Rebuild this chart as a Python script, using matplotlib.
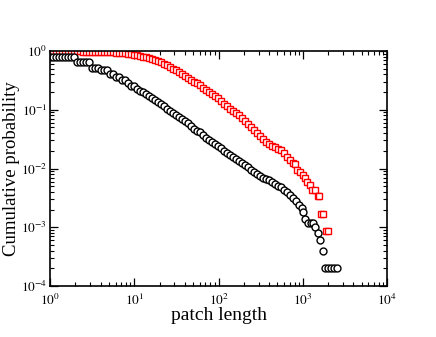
import matplotlib
matplotlib.use("Agg")
import matplotlib.pyplot as plt
from matplotlib.ticker import LogLocator, NullFormatter

# ---- data ----
black_x = [1.00, 1.085, 1.178, 1.279, 1.388, 1.507, 1.635, 1.775, 1.926,
           2.09, 2.27, 2.46, 2.67, 2.90,
           3.15, 3.42, 3.71,
           4.03, 4.37, 4.74,
           5.15, 5.59, 6.07, 6.58, 7.15, 7.76, 8.42, 9.14, 9.92,
           10.8, 11.7, 12.7, 13.8, 14.9, 16.2, 17.6, 19.1, 20.7, 22.5, 24.4,
           26.5, 28.8, 31.2, 33.9, 36.8, 39.9, 43.3, 47.0, 51.1, 55.4, 60.2,
           65.3, 70.9, 76.9, 83.5, 90.6, 98.4, 107, 116, 126, 136, 148, 161,
           174, 189, 205, 223, 242, 263, 285, 309, 336, 364, 395, 429, 466,
           506, 549, 596, 647, 702, 762, 827, 898, 975,
           1007, 1064, 1154, 1250, 1324, 1397, 1517, 1603, 1740,
           1850, 2000, 2170, 2350, 2520]
black_y = [0.78, 0.78, 0.78, 0.78, 0.78, 0.78, 0.78, 0.78, 0.78,
           0.64, 0.64, 0.64, 0.64, 0.64,
           0.52, 0.52, 0.52,
           0.47, 0.47, 0.47,
           0.41, 0.41, 0.36, 0.36, 0.32, 0.32, 0.285, 0.255, 0.255,
           0.226, 0.212, 0.20, 0.185, 0.171, 0.159, 0.149, 0.135, 0.125, 0.114, 0.103,
           0.095, 0.088, 0.080, 0.0756, 0.070, 0.0634, 0.0586, 0.053, 0.0479, 0.0443, 0.0411,
           0.0372, 0.0337, 0.0306, 0.0284, 0.0263, 0.0243, 0.0221, 0.0200, 0.0184, 0.0171, 0.0158, 0.0146,
           0.0134, 0.0124, 0.0115, 0.0104, 0.0094, 0.0087, 0.0081, 0.0075, 0.0070, 0.0066, 0.0063, 0.0059, 0.0055,
           0.0051, 0.0048, 0.0043, 0.0040, 0.0035, 0.0031, 0.0028, 0.0024, 0.0021,
           0.0018, 0.0014, 0.0012, 0.0012, 0.0012, 0.0010, 0.0008, 0.0006, 0.0004,
           0.0002, 0.0002, 0.0002, 0.0002, 0.0002]

red_x = [1.00, 1.085, 1.178, 1.279, 1.388, 1.507, 1.635, 1.775, 1.926,
         2.09, 2.27, 2.46, 2.67, 2.90,
         3.15, 3.42, 3.71, 4.03, 4.37, 4.74,
         5.15, 5.59, 6.07, 6.58, 7.15, 7.76, 8.42, 9.14, 9.92,
         10.8, 11.7, 12.7, 13.8, 14.9, 16.2, 17.6, 19.1, 20.7, 22.5, 24.4,
         26.5, 28.8, 31.2, 33.9, 36.8, 39.9, 43.3, 47.0, 51.1, 55.4, 60.2,
         65.3, 70.9, 76.9, 83.5, 90.6, 98.4, 107, 116, 126, 136, 148, 161,
         174, 189, 205, 223, 242, 263, 285, 309, 336, 364, 395, 429, 466,
         506, 549, 596, 647, 702, 762,
         812, 855, 927, 1007, 1064, 1124, 1222, 1290, 1397, 1517, 1580,
         1650, 1740, 1890, 2000]
red_y = [1.00, 1.00, 1.00, 1.00, 1.00, 1.00, 0.995, 0.99, 0.99,
         0.99, 0.985, 0.98, 0.98, 0.98,
         0.98, 0.975, 0.97, 0.965, 0.96, 0.96,
         0.955, 0.95, 0.94, 0.93, 0.92, 0.91, 0.895, 0.88, 0.86,
         0.84, 0.82, 0.80, 0.78, 0.755, 0.73, 0.70, 0.665, 0.64, 0.605, 0.57,
         0.54, 0.50, 0.47, 0.435, 0.40, 0.372, 0.350, 0.321, 0.297, 0.280, 0.264,
         0.239, 0.221, 0.201, 0.185, 0.171, 0.159, 0.141, 0.125, 0.114, 0.103, 0.095, 0.088,
         0.080, 0.0711, 0.0634, 0.0562, 0.0500, 0.0453, 0.0403, 0.0358, 0.0313, 0.0283, 0.0263, 0.0243, 0.0229,
         0.0216, 0.0203, 0.0184, 0.0158, 0.0140, 0.0125,
         0.0119, 0.0095, 0.0086, 0.0078, 0.0069, 0.0060, 0.0052, 0.0043, 0.0043, 0.0034, 0.0034,
         0.0017, 0.0017, 0.00086, 0.00086]

xticks = [1, 10, 100, 1000, 10000]
xtick_labels = ["$10^{0}$", "$10^{1}$", "$10^{2}$", "$10^{3}$", "$10^{4}$"]
yticks = [1e-4, 1e-3, 1e-2, 1e-1, 1]
ytick_labels = ["$10^{-4}$", "$10^{-3}$", "$10^{-2}$", "$10^{-1}$", "$10^{0}$"]

plt.rcParams['font.family'] = ['Liberation Serif', 'DejaVu Serif']
plt.rcParams['mathtext.fontset'] = 'stix'

fig = plt.figure(figsize=(4.36, 3.37), dpi=100)
ax = fig.add_axes([50/436, 1 - 286/337, (387-50)/436, (286-51)/337])

ax.plot(red_x, red_y, linestyle='none', marker='s', markersize=4.6,
        markerfacecolor='white', markeredgecolor='#ff0000', markeredgewidth=1.0)
ax.plot(black_x, black_y, linestyle='none', marker='o', markersize=5.0,
        markerfacecolor='white', markeredgecolor='black', markeredgewidth=1.0)

ax.set_xscale('log')
ax.set_yscale('log')
ax.set_xlim(1, 1e4)
ax.set_ylim(1e-4, 1)

ax.set_xticks(xticks)
ax.set_xticklabels(xtick_labels)
ax.set_yticks(yticks)
ax.set_yticklabels(ytick_labels)
ax.xaxis.set_minor_locator(LogLocator(base=10, subs=range(2, 10), numticks=20))
ax.yaxis.set_minor_locator(LogLocator(base=10, subs=range(2, 10), numticks=20))
ax.xaxis.set_minor_formatter(NullFormatter())
ax.yaxis.set_minor_formatter(NullFormatter())

ax.tick_params(which='both', direction='in', top=True, right=True, labelsize=9.5)
ax.tick_params(axis='x', which='major', pad=5)
ax.tick_params(axis='y', which='major', pad=2)
ax.tick_params(which='major', length=6, width=0.9)
ax.tick_params(which='minor', length=3, width=0.8)
for s in ax.spines.values():
    s.set_linewidth(1.2)

ax.set_xlabel('patch length', fontsize=14, labelpad=-1)
ax.set_ylabel('Cumulative probability', fontsize=13.5)
ax.yaxis.set_label_coords(-30.0/337, 0.5)

fig.savefig('out.png', dpi=100)
